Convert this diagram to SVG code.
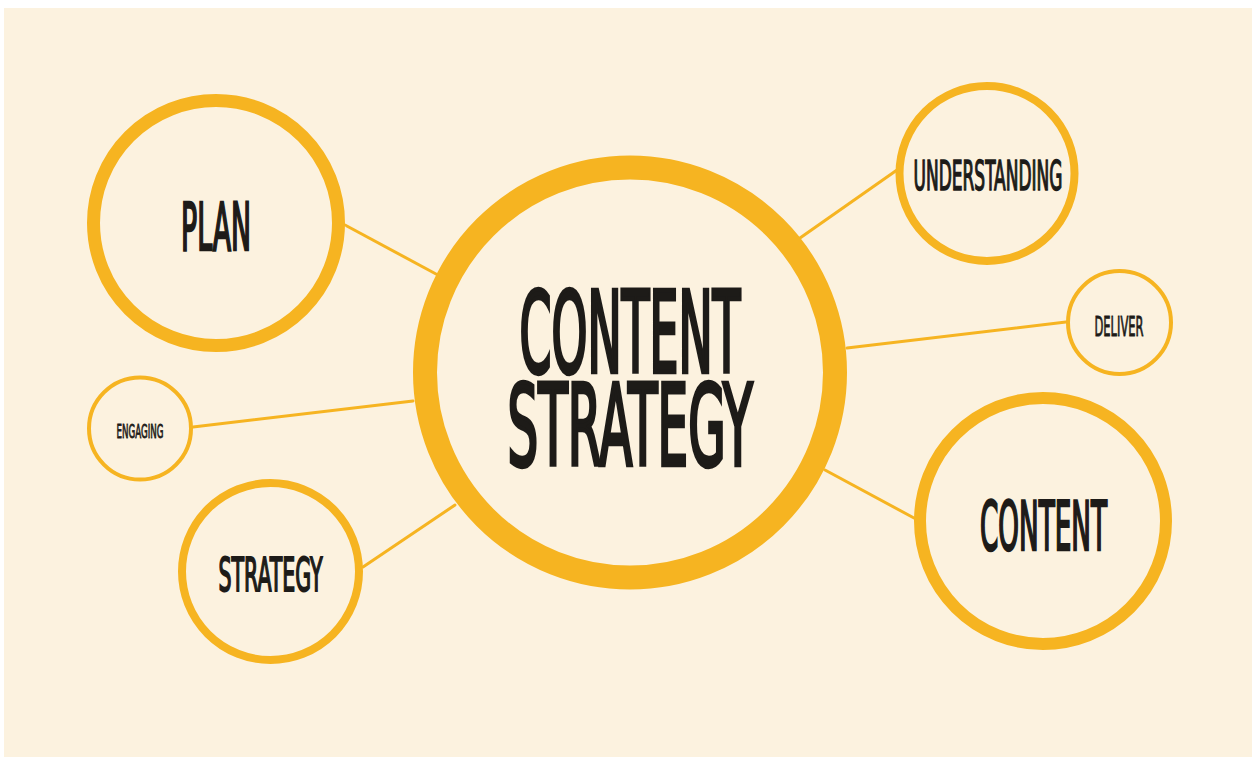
<svg xmlns="http://www.w3.org/2000/svg" width="1254" height="764" viewBox="0 0 1254 764">
<style>
.ring{fill:#fcf2df;stroke:#f6b421}
.link{stroke:#f6b421;stroke-width:3;fill:none;stroke-linecap:round}
.lbl{font-family:"DejaVu Sans Condensed","Liberation Sans Narrow","Liberation Sans",sans-serif;font-weight:normal;fill:#1d1b18;stroke:#1d1b18;stroke-linejoin:miter;text-anchor:middle}
</style>
<rect x="0" y="0" width="1254" height="764" fill="#ffffff"/>
<rect x="4" y="8" width="1248" height="749" fill="#fcf2df"/>
<g id="connectors">
<line class="link" x1="345" y1="225" x2="436" y2="274"/>
<line class="link" x1="193" y1="427" x2="413" y2="401"/>
<line class="link" x1="363" y1="567" x2="455" y2="505"/>
<line class="link" x1="897" y1="170" x2="800" y2="238"/>
<line class="link" x1="847" y1="348" x2="1066" y2="322"/>
<line class="link" x1="825" y1="470" x2="914" y2="518"/>
</g>
<g id="node-center">
<circle class="ring" cx="630" cy="372.5" r="205" stroke-width="24"/>
<text class="lbl" x="630" y="372" font-size="113" stroke-width="4.5" textLength="221" lengthAdjust="spacingAndGlyphs">CONTENT</text>
<text class="lbl" x="630" y="465" font-size="113" stroke-width="4.5" textLength="245" lengthAdjust="spacingAndGlyphs">STRATEGY</text>
</g>
<g id="node-plan">
<circle class="ring" cx="216" cy="223" r="122.5" stroke-width="13"/>
<text class="lbl" x="216" y="250" font-size="65" stroke-width="2.6" textLength="70" lengthAdjust="spacingAndGlyphs">PLAN</text>
</g>
<g id="node-engaging">
<circle class="ring" cx="140" cy="428.5" r="51" stroke-width="4"/>
<text class="lbl" x="140" y="437.5" font-size="20" stroke-width="0.8" textLength="47" lengthAdjust="spacingAndGlyphs">ENGAGING</text>
</g>
<g id="node-strategy">
<circle class="ring" cx="270.5" cy="571.5" r="88.5" stroke-width="8"/>
<text class="lbl" x="270.5" y="590.5" font-size="46" stroke-width="1.9" textLength="104" lengthAdjust="spacingAndGlyphs">STRATEGY</text>
</g>
<g id="node-understanding">
<circle class="ring" cx="987" cy="173.5" r="87.5" stroke-width="8"/>
<text class="lbl" x="988" y="189.5" font-size="40" stroke-width="1.5" textLength="149" lengthAdjust="spacingAndGlyphs">UNDERSTANDING</text>
</g>
<g id="node-deliver">
<circle class="ring" cx="1119.5" cy="322.5" r="51.5" stroke-width="4"/>
<text class="lbl" x="1119" y="335.5" font-size="27" stroke-width="0.9" textLength="49" lengthAdjust="spacingAndGlyphs">DELIVER</text>
</g>
<g id="node-content">
<circle class="ring" cx="1043" cy="521" r="123" stroke-width="12"/>
<text class="lbl" x="1043.5" y="549.5" font-size="67" stroke-width="2.6" textLength="127" lengthAdjust="spacingAndGlyphs">CONTENT</text>
</g>
</svg>
